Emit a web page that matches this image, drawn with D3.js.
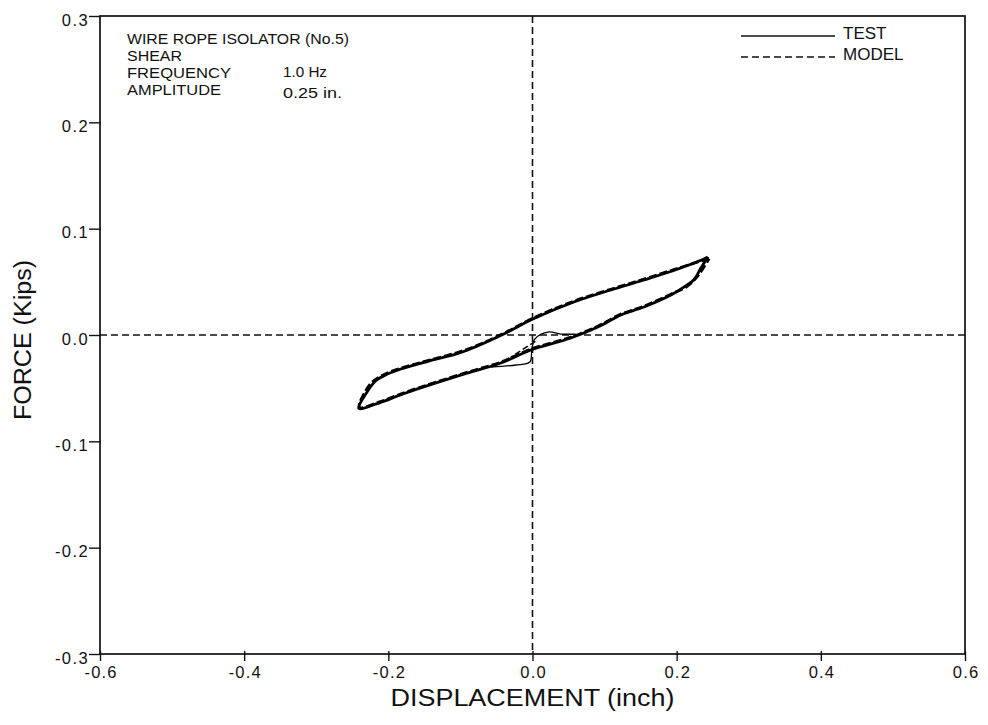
<!DOCTYPE html>
<html>
<head>
<meta charset="utf-8">
<script src="https://cdn.jsdelivr.net/npm/d3@7"></script>
<style>
  html, body { margin: 0; padding: 0; background: #fff; }
  svg { display: block; }
  text { font-family: "Liberation Sans", Arial, sans-serif; fill: #111; }
</style>
</head>
<body>
<svg id="chart" width="988" height="725"></svg>
<script>
// ---------- data ----------
const xTicks = [-0.6, -0.4, -0.2, 0.0, 0.2, 0.4, 0.6];
const yTicks = [-0.3, -0.2, -0.1, 0.0, 0.1, 0.2, 0.3];

// TEST (solid): hysteresis loop, displacement (inch), force (kips)
const testUpper = [[0.2433,0.0734],[0.2378,0.0715],[0.2017,0.0621],[0.1545,0.0517],[0.1087,0.0423],[0.0574,0.0310],[0.0005,0.0150],[-0.0398,0.0009],[-0.0897,-0.0141],[-0.1064,-0.0179],[-0.1439,-0.0245],[-0.1827,-0.0320],[-0.2050,-0.0380],[-0.2174,-0.0430],[-0.2313,-0.0555],[-0.2410,-0.0690]];
const testLower = [[-0.2410,-0.0705],[-0.2132,-0.0640],[-0.1758,-0.0545],[-0.0897,-0.0357],[-0.0439,-0.0263],[-0.0023,-0.0141],[0.0532,-0.0028],[0.0907,0.0075],[0.1226,0.0188],[0.1545,0.0263],[0.1920,0.0376],[0.2100,0.0450],[0.2239,0.0520],[0.2336,0.0630],[0.2433,0.0734]];
const testStart = [[0.0601,0.0009],[0.0393,0.0009],[0.0213,0.0028],[0.0032,-0.0038],[-0.0009,-0.0141],[-0.0037,-0.0254],[-0.0231,-0.0282],[-0.0578,-0.0301]];

// MODEL (dashed)
const modelUpper = [[0.2450,0.0720],[0.2017,0.0628],[0.1545,0.0525],[0.1087,0.0430],[0.0574,0.0318],[0.0005,0.0158],[-0.0398,0.0016],[-0.0897,-0.0133],[-0.1439,-0.0238],[-0.1827,-0.0312],[-0.2100,-0.0385],[-0.2260,-0.0470],[-0.2400,-0.0680]];
const modelLower = [[-0.2400,-0.0698],[-0.2132,-0.0632],[-0.1758,-0.0537],[-0.0897,-0.0349],[-0.0439,-0.0255],[-0.0023,-0.0133],[0.0532,-0.0020],[0.0907,0.0083],[0.1226,0.0196],[0.1545,0.0271],[0.1920,0.0384],[0.2150,0.0460],[0.2300,0.0560],[0.2450,0.0720]];
const modelStart = [[0.0040,-0.0060],[-0.0301,-0.0207]];

const annotationLabels = ["WIRE ROPE ISOLATOR  (No.5)", "SHEAR", "FREQUENCY", "AMPLITUDE"];
const annotationValues = ["1.0 Hz", "0.25 in."];
const legendItems = [{name: "TEST", dash: null}, {name: "MODEL", dash: "7,4"}];

// ---------- layout ----------
const svg = d3.select("#chart");
const L = 100, R = 965, T = 16, B = 654;
const x = d3.scaleLinear().domain([-0.6, 0.6]).range([L, R]);
const y = d3.scaleLinear().domain([-0.3, 0.3]).range([B, T]);
const fmt = d => d3.format(".1f")(d).replace("−", "-");

// frame
svg.append("rect").attr("x", L).attr("y", T).attr("width", R - L).attr("height", B - T)
  .attr("fill", "none").attr("stroke", "#111").attr("stroke-width", 1.7);

// zero lines
svg.append("line").attr("x1", L).attr("x2", R).attr("y1", y(0)).attr("y2", y(0))
  .attr("stroke", "#111").attr("stroke-width", 1.6).attr("stroke-dasharray", "7,4");
svg.append("line").attr("x1", x(0)).attr("x2", x(0)).attr("y1", T).attr("y2", B)
  .attr("stroke", "#111").attr("stroke-width", 1.6).attr("stroke-dasharray", "7,4");

// axes
const xAxis = d3.axisBottom(x).tickValues(xTicks).tickSize(7).tickSizeOuter(0);
const gx = svg.append("g").attr("transform", `translate(0,${B})`).call(xAxis);
gx.select(".domain").remove();
gx.selectAll("line").attr("stroke", "#111").attr("stroke-width", 1.4).attr("y1", -3);
gx.selectAll("text").attr("font-size", 16.5).attr("letter-spacing", "1.2px")
  .attr("y", 12).attr("dy", "0.71em").attr("dx", "0.6px").text(fmt);

const yAxis = d3.axisLeft(y).tickValues(yTicks).tickSize(11).tickSizeOuter(0);
const gy = svg.append("g").attr("transform", `translate(${L},0)`).call(yAxis);
gy.select(".domain").remove();
gy.selectAll("line").attr("stroke", "#111").attr("stroke-width", 1.4).attr("x1", 1);
gy.selectAll("text").attr("font-size", 16.5).attr("letter-spacing", "1.4px")
  .attr("x", -11).attr("dy", "0.55em").text(fmt);

// axis titles
svg.append("text").attr("x", (L + R) / 2).attr("y", 706).attr("text-anchor", "middle")
  .attr("font-size", 23).attr("textLength", 284).attr("lengthAdjust", "spacingAndGlyphs")
  .text("DISPLACEMENT (inch)");
svg.append("text").attr("transform", `translate(31,${(T + B) / 2 + 5}) rotate(-90)`)
  .attr("text-anchor", "middle").attr("font-size", 23)
  .attr("textLength", 160).attr("lengthAdjust", "spacingAndGlyphs")
  .text("FORCE (Kips)");

// curves
const line = d3.line().x(d => x(d[0])).y(d => y(d[1])).curve(d3.curveCatmullRom.alpha(0.5));
const testLoop = testUpper.concat(testLower.slice(1));
const modelLoop = modelUpper.concat(modelLower.slice(1));

svg.append("path").attr("d", line(testLoop)).attr("fill", "none")
  .attr("stroke", "#000").attr("stroke-width", 2.8).attr("stroke-linejoin", "round");
svg.append("path").attr("d", line(testStart)).attr("fill", "none")
  .attr("stroke", "#000").attr("stroke-width", 1.3);
svg.append("path").attr("d", line(modelLoop)).attr("fill", "none")
  .attr("stroke", "#000").attr("stroke-width", 2.8).attr("stroke-dasharray", "8,3");
svg.append("path").attr("d", line(modelStart)).attr("fill", "none")
  .attr("stroke", "#000").attr("stroke-width", 1.5).attr("stroke-dasharray", "6,3");

// annotation block
const ann = svg.append("g");
const lineY = [44, 61, 78, 95];
const lineW = [222, 55, 104, 94];
annotationLabels.forEach((t, i) => {
  ann.append("text").attr("x", 127).attr("y", lineY[i]).attr("font-size", 14.5)
    .attr("textLength", lineW[i]).attr("lengthAdjust", "spacingAndGlyphs").text(t);
});
ann.append("text").attr("x", 283).attr("y", 77).attr("font-size", 14.5)
  .attr("textLength", 44).attr("lengthAdjust", "spacingAndGlyphs").text(annotationValues[0]);
ann.append("text").attr("x", 283).attr("y", 98).attr("font-size", 14.5)
  .attr("textLength", 59).attr("lengthAdjust", "spacingAndGlyphs").text(annotationValues[1]);

// legend
const lg = svg.append("g");
legendItems.forEach((it, i) => {
  const ly = 36 + i * 21;
  lg.append("line").attr("x1", 741).attr("x2", 835).attr("y1", ly).attr("y2", ly)
    .attr("stroke", "#111").attr("stroke-width", 1.4)
    .attr("stroke-dasharray", it.dash);
  lg.append("text").attr("x", 843).attr("y", ly + 3).attr("font-size", 17).text(it.name);
});
</script>
</body>
</html>
